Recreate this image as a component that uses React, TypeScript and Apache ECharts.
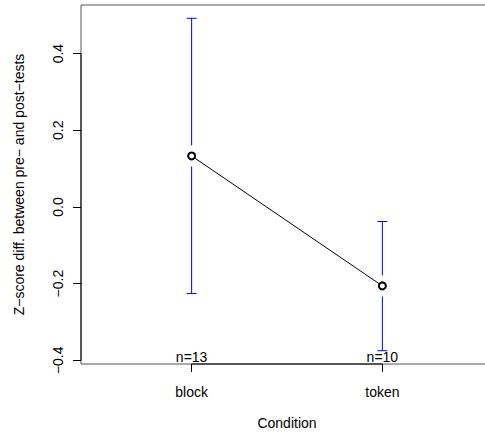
import React, { useEffect, useRef } from "react";
import * as echarts from "echarts";

const categories = ["block", "token"];
const means = [0.133, -0.206];
const ciLower = [-0.226, -0.375];
const ciUpper = [0.492, -0.038];
const counts = [13, 10];
const yTicks = [-0.4, -0.2, 0, 0.2, 0.4];
const yTickLabels = ["\u22120.4", "\u22120.2", "0.0", "0.2", "0.4"];
const xTitle = "Condition";
const yTitle = "Z\u2212score diff. between pre\u2212 and post\u2212tests";

const FONT = "'Liberation Sans', Arial, Helvetica, sans-serif";

export default function App() {
  const ref = useRef<HTMLDivElement>(null);
  useEffect(() => {
    if (!ref.current) return;
    const chart = echarts.init(ref.current, null, { renderer: "svg" });
    const nCat = categories.length;
    const xPos = categories.map((_, i) => i + 1);
    const xMin = 0.5 - 0.04 * nCat;
    const xMax = nCat + 0.5 + 0.04 * nCat;
    const lo = Math.min(...ciLower);
    const hi = Math.max(...ciUpper);
    const span = hi - lo;
    const yMin = lo - 0.04 * span;
    const yMax = hi + 0.04 * span;

    const barData = categories.map((_, i) => [xPos[i], means[i], ciLower[i], ciUpper[i], counts[i]]);

    const option: any = {
      animation: false,
      textStyle: { fontFamily: FONT },
      grid: {
        left: 81,
        top: 5,
        width: 412,
        height: 359,
        show: true,
        borderColor: "#555",
        borderWidth: 1,
        backgroundColor: "transparent",
        containLabel: false,
        outerBoundsMode: "none",
      },
      xAxis: {
        type: "value",
        min: xMin,
        max: xMax,
        name: xTitle,
        nameLocation: "middle",
        nameGap: 52,
        nameTextStyle: { fontSize: 14, color: "#000", fontFamily: FONT },
        splitLine: { show: false },
        axisLine: { show: false, onZero: false },
        axisTick: { show: true, customValues: xPos, length: 8, lineStyle: { color: "#000", width: 1 } },
        axisLabel: {
          customValues: xPos,
          margin: 21,
          fontSize: 14,
          color: "#000",
          fontFamily: FONT,
          formatter: (v: number) => categories[Math.round(v) - 1] ?? "",
        },
      },
      yAxis: {
        type: "value",
        min: yMin,
        max: yMax,
        name: yTitle,
        nameLocation: "middle",
        nameRotate: 90,
        nameGap: 55,
        nameTextStyle: { fontSize: 14, color: "#000", fontFamily: FONT },
        splitLine: { show: false },
        axisLine: { show: false, onZero: false },
        axisTick: { show: true, customValues: yTicks, length: 8, lineStyle: { color: "#000", width: 1 } },
        axisLabel: {
          customValues: yTicks,
          rotate: 90,
          margin: 16,
          fontSize: 14,
          color: "#000",
          fontFamily: FONT,
          formatter: (v: number) => {
            const idx = yTicks.findIndex((t) => Math.abs(t - v) < 1e-9);
            return idx >= 0 ? yTickLabels[idx] : "";
          },
        },
      },
      series: [
        {
          type: "custom",
          name: "axes",
          silent: true,
          z: 1,
          data: [[0]],
          renderItem: (params: any, api: any) => {
            const a = api.coord([xMin, yTicks[0]]);
            const b = api.coord([xMin, yTicks[yTicks.length - 1]]);
            const c = api.coord([xPos[0], yMin]);
            const d = api.coord([xPos[xPos.length - 1], yMin]);
            return {
              type: "group",
              children: [
                { type: "line", shape: { x1: a[0], y1: a[1], x2: b[0], y2: b[1] }, style: { stroke: "#000", lineWidth: 1 } },
                { type: "line", shape: { x1: c[0], y1: c[1], x2: d[0], y2: d[1] }, style: { stroke: "#000", lineWidth: 1 } },
              ],
            };
          },
        },
        {
          type: "custom",
          name: "ci",
          silent: true,
          z: 2,
          data: barData,
          renderItem: (params: any, api: any) => {
            const x = api.value(0);
            const m = api.coord([x, api.value(1)]);
            const l = api.coord([x, api.value(2)]);
            const h = api.coord([x, api.value(3)]);
            const base = api.coord([x, yMin]);
            const gap = 10.5;
            const cap = 5;
            const st = { stroke: "#0000FF", lineWidth: 1 };
            const children: any[] = [];
            if (h[1] < m[1] - gap)
              children.push({ type: "line", shape: { x1: m[0], y1: h[1], x2: m[0], y2: m[1] - gap }, style: st });
            if (l[1] > m[1] + gap)
              children.push({ type: "line", shape: { x1: m[0], y1: m[1] + gap, x2: m[0], y2: l[1] }, style: st });
            children.push({ type: "line", shape: { x1: m[0] - cap, y1: h[1], x2: m[0] + cap, y2: h[1] }, style: st });
            children.push({ type: "line", shape: { x1: m[0] - cap, y1: l[1], x2: m[0] + cap, y2: l[1] }, style: st });
            children.push({
              type: "text",
              x: base[0],
              y: base[1] - 0.5,
              style: {
                text: "n=" + api.value(4),
                fill: "#000",
                font: "14px " + FONT,
                align: "center",
                verticalAlign: "bottom",
              },
            });
            return { type: "group", children };
          },
        },
        {
          type: "line",
          name: "means",
          z: 3,
          data: categories.map((_, i) => [xPos[i], means[i]]),
          symbol: "emptyCircle",
          symbolSize: 7,
          lineStyle: { color: "#000", width: 1 },
          itemStyle: { color: "#000", borderColor: "#000", borderWidth: 1 },
        },
      ],
    };
    chart.setOption(option);
    return () => chart.dispose();
  }, []);
  return (
    <div
      ref={ref}
      style={{ position: "fixed", left: 0, top: 0, width: 485, height: 433, background: "#fff" }}
    />
  );
}
